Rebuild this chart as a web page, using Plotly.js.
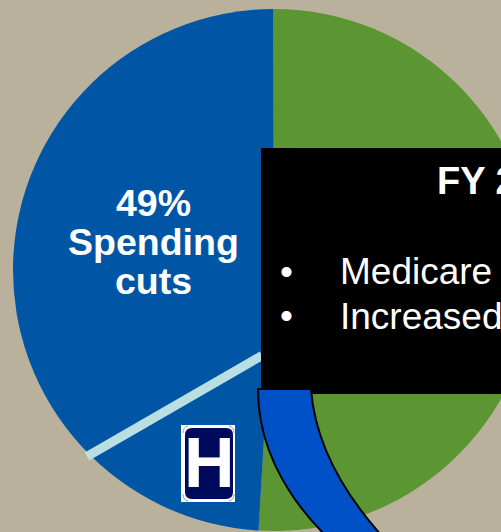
<!DOCTYPE html>
<html>
<head>
<meta charset="utf-8">
<script src="https://cdn.plot.ly/plotly-3.0.1.min.js"></script>
<style>
  html, body { margin: 0; padding: 0; width: 501px; height: 532px; overflow: hidden; background: #b9b19b; }
</style>
</head>
<body>
<div id="chart"></div>
<script>
// Budget composition
var sliceNames = ['Other', 'Spending cuts'];
var sliceValues = [51, 49];
var sliceColors = ['#5c9632', '#0056a4'];

var spendingLines = ['49%', 'Spending', 'cuts'];
var boxHeading = 'FY 2';
var boxItems = ['Medicare', 'Increased'];

var W = 620, H = 532;
function fx(x) { return x / W; }
function fy(y) { return 1 - y / H; }

function pathFrom(cmds) {
  return cmds.map(function (c) {
    var s = c[0];
    for (var i = 1; i < c.length; i += 2) {
      s += ' ' + fx(c[i]).toFixed(5) + ',' + fy(c[i + 1]).toFixed(5);
    }
    return s;
  }).join(' ');
}

function rect(x0, y0, x1, y1, color) {
  return { type: 'rect', xref: 'paper', yref: 'paper', x0: fx(x0), x1: fx(x1), y0: fy(y0), y1: fy(y1),
           fillcolor: color, line: { width: 0 } };
}

function roundedRect(x0, y0, x1, y1, r, color) {
  return { type: 'path', xref: 'paper', yref: 'paper', fillcolor: color, line: { width: 0 },
    path: pathFrom([
      ['M', x0 + r, y0], ['L', x1 - r, y0], ['Q', x1, y0, x1, y0 + r],
      ['L', x1, y1 - r], ['Q', x1, y1, x1 - r, y1], ['L', x0 + r, y1],
      ['Q', x0, y1, x0, y1 - r], ['L', x0, y0 + r], ['Q', x0, y0, x0 + r, y0], ['Z']
    ]) };
}

// Thin rim arc on one corner of the sign
function cornerArc(x0, y0, cx, cy, x1, y1) {
  return { type: 'path', xref: 'paper', yref: 'paper', line: { color: '#6b7099', width: 0.7 },
    path: pathFrom([['M', x0, y0], ['Q', cx, cy, x1, y1]]) };
}

var shapes = [
  // divider across the spending wedge
  { type: 'line', xref: 'paper', yref: 'paper', x0: fx(87), y0: fy(456.5), x1: fx(262), y1: fy(355.5),
    line: { color: '#b9dfe3', width: 9 } },
  // caption box
  rect(261, 148, W, 394, '#000000'),
  // curved arrow band
  { type: 'path', xref: 'paper', yref: 'paper', fillcolor: '#0050c8', line: { color: '#000000', width: 2 },
    path: pathFrom([
      ['M', 258, 389], ['L', 311, 389],
      ['C', 314, 430, 332, 480, 382, 536],
      ['L', 326, 536],
      ['C', 285, 495, 258, 445, 258, 389], ['Z']
    ]) },
  // hospital sign
  rect(181, 425, 235, 502, '#ffffff'),
  roundedRect(185, 428, 233, 499, 7, '#000a5c'),
  cornerArc(183, 433, 183, 427, 188, 426),
  cornerArc(229, 426, 234, 427, 234, 433),
  cornerArc(183, 494, 183, 500, 188, 501),
  cornerArc(229, 501, 234, 500, 234, 494)
];

function label(text, x, y, size, bold, anchor, family) {
  return { xref: 'paper', yref: 'paper', x: fx(x), y: fy(y), text: bold ? '<b>' + text + '</b>' : text,
           showarrow: false, xanchor: anchor, yanchor: 'middle', borderpad: 0,
           font: { family: family || '"Liberation Sans", Arial, sans-serif', size: size, color: '#ffffff' } };
}

var annotations = [
  label(spendingLines[0], 153, 203, 37.5, true, 'center'),
  label(spendingLines[1], 153, 242, 37.5, true, 'center'),
  label(spendingLines[2], 153, 281, 37.5, true, 'center'),
  label(boxHeading, 436, 181, 38, true, 'left'),
  label('•', 286.5, 271, 37, false, 'center'),
  label(boxItems[0], 339, 271, 37, false, 'left'),
  label('•', 286.5, 315, 37, false, 'center'),
  label(boxItems[1], 339, 316, 37, false, 'left'),
  label('H', 209, 463, 70, true, 'center', '"Liberation Sans Narrow", "Liberation Sans", sans-serif')
];

Plotly.newPlot('chart', [{
  type: 'pie',
  labels: sliceNames,
  values: sliceValues,
  sort: false,
  direction: 'clockwise',
  rotation: -0.2,
  textinfo: 'none',
  hoverinfo: 'none',
  marker: { colors: sliceColors, line: { width: 0 } },
  domain: { x: [fx(13), fx(535)], y: [fy(531), fy(9)] }
}], {
  width: W,
  height: H,
  margin: { l: 0, r: 0, t: 0, b: 0, pad: 0 },
  paper_bgcolor: '#b9b19b',
  plot_bgcolor: '#b9b19b',
  showlegend: false,
  shapes: shapes,
  annotations: annotations
}, { displayModeBar: false, staticPlot: true });
</script>
</body>
</html>
